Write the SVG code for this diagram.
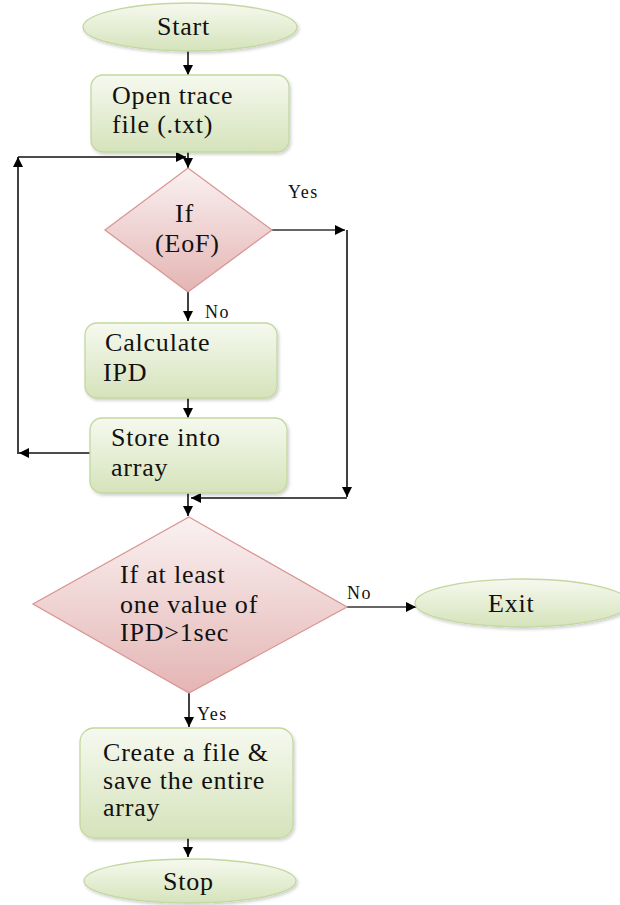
<svg xmlns="http://www.w3.org/2000/svg" width="620" height="905" viewBox="0 0 620 905">
<style>
text{font-family:"Liberation Serif","Times New Roman","DejaVu Serif",serif;fill:#111;}
.t{font-size:26px;letter-spacing:0.8px;}
.l{font-size:18px;letter-spacing:1.5px;}
.box{fill:url(#gGreen);stroke:#c4d79f;stroke-width:1.3;filter:url(#sh);}
.dia{fill:url(#gPink);stroke:#d99694;stroke-width:1.3;}
.c{stroke:#111;stroke-width:1.6;fill:none;marker-end:url(#ah);}
.cg{stroke:#666;stroke-width:2;fill:none;marker-end:url(#ah);}
</style>
<defs>
<linearGradient id="gGreen" x1="0" y1="0" x2="0" y2="1">
<stop offset="0" stop-color="#f6f9ef"/>
<stop offset="1" stop-color="#d5e3bb"/>
</linearGradient>
<linearGradient id="gPink" x1="0" y1="0" x2="0" y2="1">
<stop offset="0" stop-color="#faf1f1"/>
<stop offset="1" stop-color="#e4b5b4"/>
</linearGradient>
<filter id="sh" x="-10%" y="-10%" width="125%" height="130%">
<feDropShadow dx="1.5" dy="2" stdDeviation="1.5" flood-color="#000" flood-opacity="0.18"/>
</filter>
<marker id="ah" markerUnits="userSpaceOnUse" markerWidth="11" markerHeight="11" refX="10" refY="5" orient="auto">
<path d="M0,0 L10,5 L0,10 z" fill="#000"/>
</marker>
</defs>

<g id="connectors">
<line class="c" x1="188" y1="51" x2="188" y2="75"/>
<line class="c" x1="188" y1="152" x2="188" y2="168"/>
<line class="c" x1="91" y1="453" x2="19" y2="453"/>
<line class="c" x1="18" y1="454" x2="18" y2="157"/>
<line class="c" x1="18" y1="157" x2="186" y2="157"/>
<line class="cg" x1="272" y1="230" x2="345" y2="230"/>
<line class="c" x1="347" y1="230" x2="347" y2="497"/>
<line class="c" x1="347" y1="498" x2="191" y2="498"/>
<line class="c" x1="188" y1="292" x2="188" y2="321"/>
<line class="c" x1="188" y1="398" x2="188" y2="418"/>
<line class="c" x1="188" y1="493" x2="188" y2="516"/>
<line class="cg" x1="347" y1="607" x2="416" y2="607"/>
<line class="c" x1="189" y1="693" x2="189" y2="727"/>
<line class="c" x1="188" y1="838" x2="188" y2="857"/>
<text class="l" x="288" y="198">Yes</text>
<text class="l" x="205" y="318">No</text>
<text class="l" x="347" y="599">No</text>
<text class="l" x="197" y="720">Yes</text>
</g>

<g id="start">
<ellipse class="box" cx="190" cy="27" rx="107" ry="24"/>
<text class="t" x="157" y="35">Start</text>
</g>

<g id="open">
<rect class="box" x="91" y="75" width="198" height="77" rx="12"/>
<text class="t" x="112" y="104">Open trace</text>
<text class="t" x="112" y="133">file (.txt)</text>
</g>

<g id="eof">
<polygon class="dia" points="188,168 272,230 188,292 105,230"/>
<text class="t" x="175" y="222">If</text>
<text class="t" x="155" y="252">(EoF)</text>
</g>

<g id="calc">
<rect class="box" x="85" y="323" width="192" height="75" rx="12"/>
<text class="t" x="105" y="351">Calculate</text>
<text class="t" x="103" y="381">IPD</text>
</g>

<g id="store">
<rect class="box" x="90" y="418" width="197" height="75" rx="12"/>
<text class="t" x="111" y="446">Store into</text>
<text class="t" x="111" y="476">array</text>
</g>

<g id="check">
<polygon class="dia" points="189,517 347,607 189,693 33,604"/>
<text class="t" x="120" y="583">If at least</text>
<text class="t" x="120" y="613">one value of</text>
<text class="t" x="120" y="641">IPD&gt;1sec</text>
</g>

<g id="exit">
<ellipse class="box" cx="522" cy="603" rx="107" ry="24"/>
<text class="t" x="488" y="612">Exit</text>
</g>

<g id="create">
<rect class="box" x="80" y="728" width="213" height="110" rx="14"/>
<text class="t" x="103" y="761">Create a file &amp;</text>
<text class="t" x="103" y="789">save the entire</text>
<text class="t" x="103" y="816">array</text>
</g>

<g id="stop">
<ellipse class="box" cx="190" cy="881" rx="106" ry="22"/>
<text class="t" x="163" y="890">Stop</text>
</g>
</svg>
